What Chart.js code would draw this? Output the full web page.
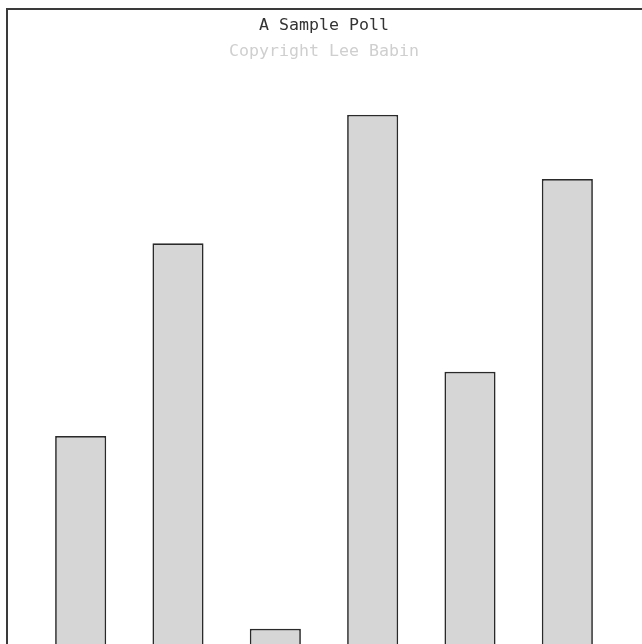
<!DOCTYPE html>
<html>
<head>
<meta charset="utf-8">
<script src="https://cdn.jsdelivr.net/npm/chart.js@4"></script>
<style>
  html, body { margin: 0; padding: 0; background: #fff; overflow: hidden; width: 642px; height: 644px; }
  #moldura { position: absolute; left: 6px; top: 8px; width: 640px; height: 690px; border: 2px solid #3a3a3a; }
  #grafico { display: block; }
</style>
</head>
<body>
<div id="moldura"><canvas id="grafico" width="640" height="690"></canvas></div>
<script>
// Dados da enquete
const opcoes = ['Opção 1', 'Opção 2', 'Opção 3', 'Opção 4', 'Opção 5', 'Opção 6'];
const votos = [4, 7, 1, 9, 5, 8];
const titulo = 'A Sample Poll';
const subtitulo = 'Copyright Lee Babin';

const fonteMono = "'DejaVu Sans Mono', 'Liberation Mono', monospace";

const ctx = document.getElementById('grafico').getContext('2d');
new Chart(ctx, {
    type: 'bar',
    data: {
        labels: opcoes,
        datasets: [{
            label: 'Votos',
            data: votos,
            backgroundColor: '#d6d6d6',
            borderColor: '#2a2a2a',
            borderWidth: 1.7,
            borderSkipped: false,
            categoryPercentage: 1,
            barPercentage: 0.525
        }]
    },
    options: {
        responsive: false,
        animation: false,
        devicePixelRatio: 1,
        layout: { padding: { left: 24, right: 32, top: 0, bottom: 7 } },
        plugins: {
            legend: { display: false },
            tooltip: { enabled: false },
            title: {
                display: true,
                text: titulo,
                color: '#333',
                font: { family: fonteMono, size: 16.6, weight: 'normal' },
                padding: { top: 6, bottom: 4 }
            },
            subtitle: {
                display: true,
                text: subtitulo,
                color: '#cfcfcf',
                font: { family: fonteMono, size: 16.6, weight: 'normal' },
                padding: { top: 2, bottom: 53 }
            }
        },
        scales: {
            x: { display: false },
            y: { display: false, min: 0, max: 9 }
        }
    }
});
</script>
</body>
</html>
